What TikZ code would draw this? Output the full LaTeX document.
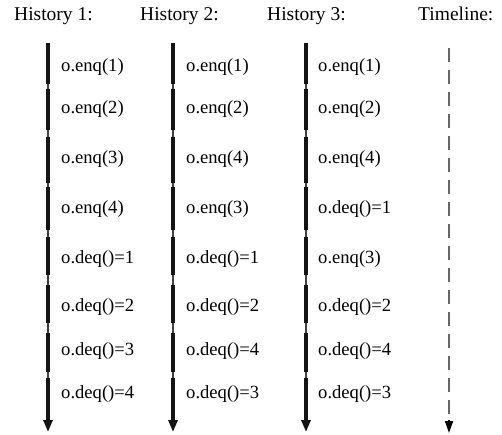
\documentclass[tikz,border=0pt]{standalone}
\usepackage{fontspec}
\setmainfont{Liberation Serif}
\usetikzlibrary{arrows.meta}
\begin{document}
\begin{tikzpicture}[x=1pt,y=-1pt,
  header/.style={anchor=base west, inner sep=0pt, font=\rmfamily\fontsize{19.5}{22}\selectfont},
  oplabel/.style={anchor=west, inner sep=0pt, font=\rmfamily\fontsize{18.6}{22}\selectfont},
  spine/.style={line width=1.1pt, draw=black!75},
  opbar/.style={line width=3.6pt, draw=black!92, line cap=butt},
  bartip/.style={-{Triangle[length=12pt,width=9pt]}},
  timeline/.style={line width=1.5pt, draw=black!60, dash pattern=on 14pt off 8pt}
]
\useasboundingbox (0,0) rectangle (502,434);

% column headers
\node[header] (hd1) at (14,20)  {History 1:};
\node[header] (hd2) at (140,20) {History 2:};
\node[header] (hd3) at (267,20) {History 3:};
\node[header] (hd4) at (418,20) {Timeline:};

% one history: bar x-position, label x-position, eight operations
\foreach \c/\bx/\lx/\ops in {
  1/48/61/{o.enq(1),o.enq(2),o.enq(3),o.enq(4),o.deq()=1,o.deq()=2,o.deq()=3,o.deq()=4},
  2/173/186/{o.enq(1),o.enq(2),o.enq(4),o.enq(3),o.deq()=1,o.deq()=2,o.deq()=4,o.deq()=3},
  3/306/318/{o.enq(1),o.enq(2),o.enq(4),o.deq()=1,o.enq(3),o.deq()=2,o.deq()=4,o.deq()=3}} {
  % thin spine behind the operation bars
  \coordinate (top\c) at (\bx,43);
  \coordinate (end\c) at (\bx,432);
  \draw[spine] (top\c) -- (\bx,420);
  % operation intervals
  \foreach \k/\ya/\yb in {1/43/84,2/89/130,3/137/183,4/187/230,5/237/275,6/285/323,7/333/372} {
    \coordinate (s\c\k) at (\bx,\ya);
    \coordinate (e\c\k) at (\bx,\yb);
    \draw[opbar] (s\c\k) -- (e\c\k);
  }
  \coordinate (s\c8) at (\bx,378);
  \draw[opbar,bartip] (s\c8) -- (end\c);
  % operation labels
  \foreach \op [count=\k] in \ops {
    \pgfmathsetmacro{\ly}{{67,109,159,209,259,307,351,394}[\k-1]}
    \node[oplabel] (op\c\k) at (\lx,\ly) {\op};
  }
}

% timeline
\coordinate (tltop) at (449,48);
\coordinate (tlmid) at (449,421);
\coordinate (tlend) at (449,433);
\draw[timeline] (tltop) -- (tlmid);
\draw[line width=1.5pt, draw=black, fill=black, -{Triangle[length=12pt,width=8pt]}] (449,420) -- (tlend);
\end{tikzpicture}
\end{document}
